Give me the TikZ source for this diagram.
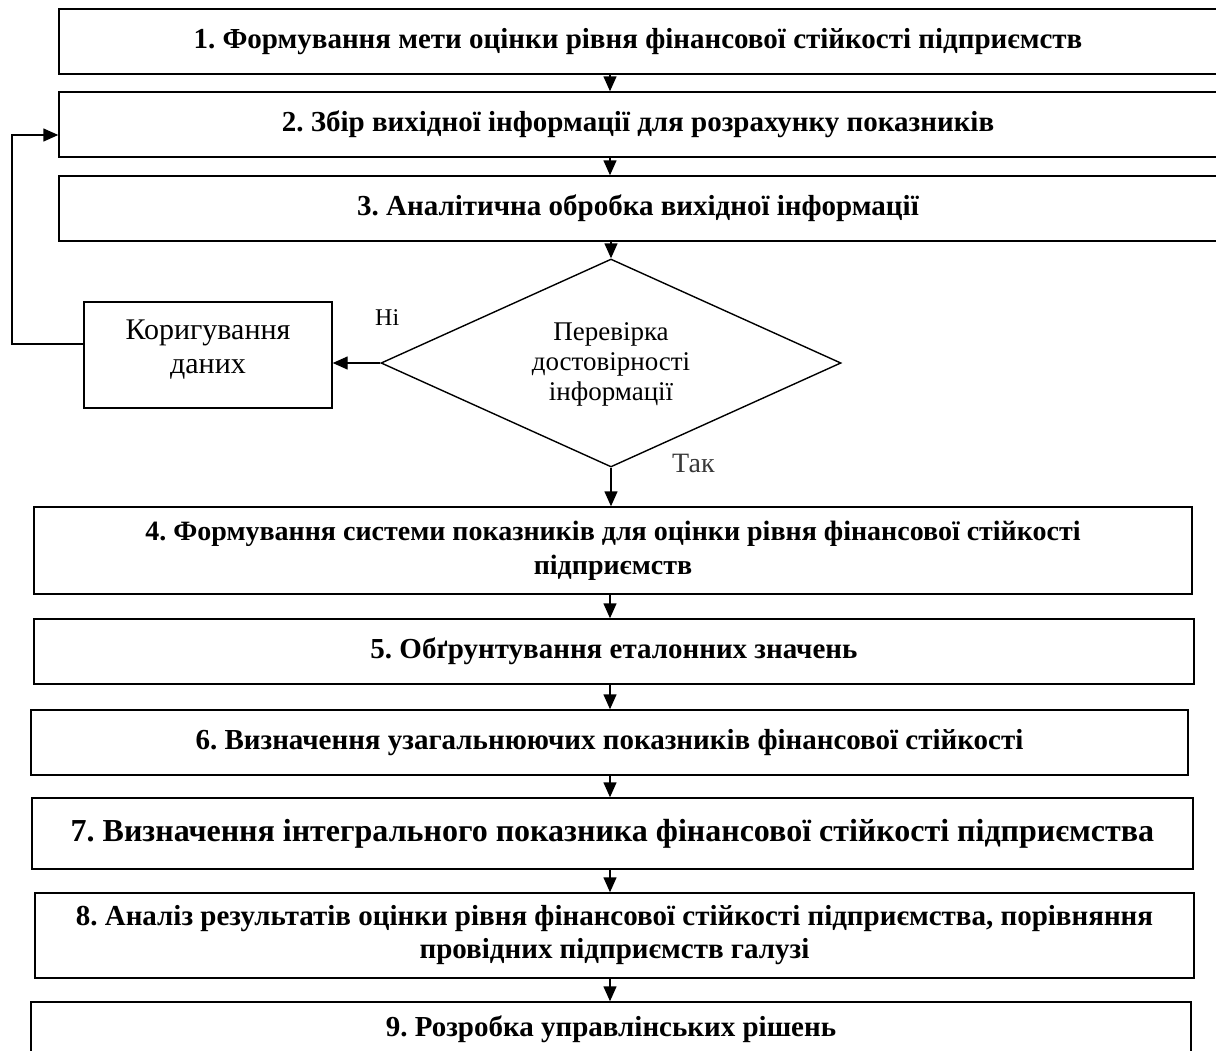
\documentclass[tikz,border=0pt]{standalone}
\usepackage{fontspec}
\setmainfont{Liberation Serif}
\usetikzlibrary{arrows.meta,shapes.geometric,calc}
\begin{document}
\frenchspacing
\begin{tikzpicture}[x=1pt,y=-1pt,
  box/.style={draw, line width=1.4pt, rectangle, inner sep=0pt, align=center,
    font=\fontsize{29}{33}\selectfont\bfseries},
  rt/.style={font=\fontsize{27}{30}\selectfont, align=center, inner sep=0pt},
  arr/.style={line width=1.4pt, -{Triangle[length=15pt,width=13pt]}},
]
\useasboundingbox (0,0) rectangle (1216,1050);
\clip (0,0) rectangle (1216,1050);
% boxes
\node[box, minimum width=1158pt, minimum height=65pt] (b1) at (638,41.5) {\raisebox{3pt}{1. Формування мети оцінки рівня фінансової стійкості підприємств}};
\node[box, minimum width=1158pt, minimum height=65pt] (b2) at (638,124.5) {\raisebox{3pt}{2. Збір вихідної інформації для розрахунку показників}};
\node[box, minimum width=1158pt, minimum height=65pt] (b3) at (638,208.5) {\raisebox{3pt}{3. Аналітична обробка вихідної інформації}};
\node[draw, line width=1.4pt, diamond, inner sep=0pt, minimum width=460pt, minimum height=208pt] (d) at (611,363) {};
\node[rt] (dt) at (611,364) {Перевірка\\достовірності\\інформації};
\node[draw, line width=1.4pt, rectangle, inner sep=0pt, minimum width=248pt, minimum height=106pt] (k) at (208,355) {};
\node[font=\fontsize{30}{34}\selectfont, align=center, inner sep=0pt] (kt) at (208,350) {Коригування\\даних};
\node[font=\fontsize{24}{28}\selectfont, anchor=base west, inner sep=0pt] (ni) at (375,325) {Ні};
\node[font=\fontsize{28}{30}\selectfont, anchor=base west, inner sep=0pt, text=black!78] (tak) at (672,472) {Так};
\node[box, minimum width=1158pt, minimum height=87pt, font=\fontsize{28}{34}\selectfont\bfseries] (b4) at (613,550.5) {4. Формування системи показників для оцінки рівня фінансової стійкості\\підприємств};
\node[box, minimum width=1160pt, minimum height=65pt] (b5) at (614,651.5) {\raisebox{2pt}{5. Обґрунтування еталонних значень}};
\node[box, minimum width=1157pt, minimum height=65pt] (b6) at (609.5,742.5) {\raisebox{2pt}{6. Визначення узагальнюючих показників фінансової стійкості}};
\node[box, minimum width=1161pt, minimum height=71pt, font=\fontsize{32}{36}\selectfont\bfseries] (b7) at (612.5,833.5) {\raisebox{2pt}{7. Визначення інтегрального показника фінансової стійкості підприємства}};
\node[box, minimum width=1159pt, minimum height=85pt] (b8) at (614.5,935.5) {8. Аналіз результатів оцінки рівня фінансової стійкості підприємства, порівняння\\провідних підприємств галузі};
\node[draw, line width=1.4pt, rectangle, inner sep=0pt, minimum width=1160pt, minimum height=100pt] (b9) at (611,1052) {};
\node[font=\fontsize{29}{33}\selectfont\bfseries, inner sep=0pt] (t9) at (611,1029) {9. Розробка управлінських рішень};
% connectors
\coordinate (lp1) at (12,344);
\coordinate (lp2) at (12,135);
\draw[arr] (b1.south -| 610,0) -- (b2.north -| 610,0);
\draw[arr] (b2.south -| 610,0) -- (b3.north -| 610,0);
\draw[arr] (b3.south -| d.north) -- (d.north);
\draw[arr] (d.south) -- (b4.north -| d.south);
\draw[arr] (b4.south -| 610,0) -- (b5.north -| 610,0);
\draw[arr] (b5.south -| 610,0) -- (b6.north -| 610,0);
\draw[arr] (b6.south -| 610,0) -- (b7.north -| 610,0);
\draw[arr] (b7.south -| 610,0) -- (b8.north -| 610,0);
\draw[arr] (b8.south -| 610,0) -- (b9.north -| 610,0);
\draw[arr] (d.west) -- (k.east |- d.west);
\draw[arr] (k.west |- lp1) -- (lp1) -- (lp2) -- (b2.west |- lp2);
\end{tikzpicture}
\end{document}
